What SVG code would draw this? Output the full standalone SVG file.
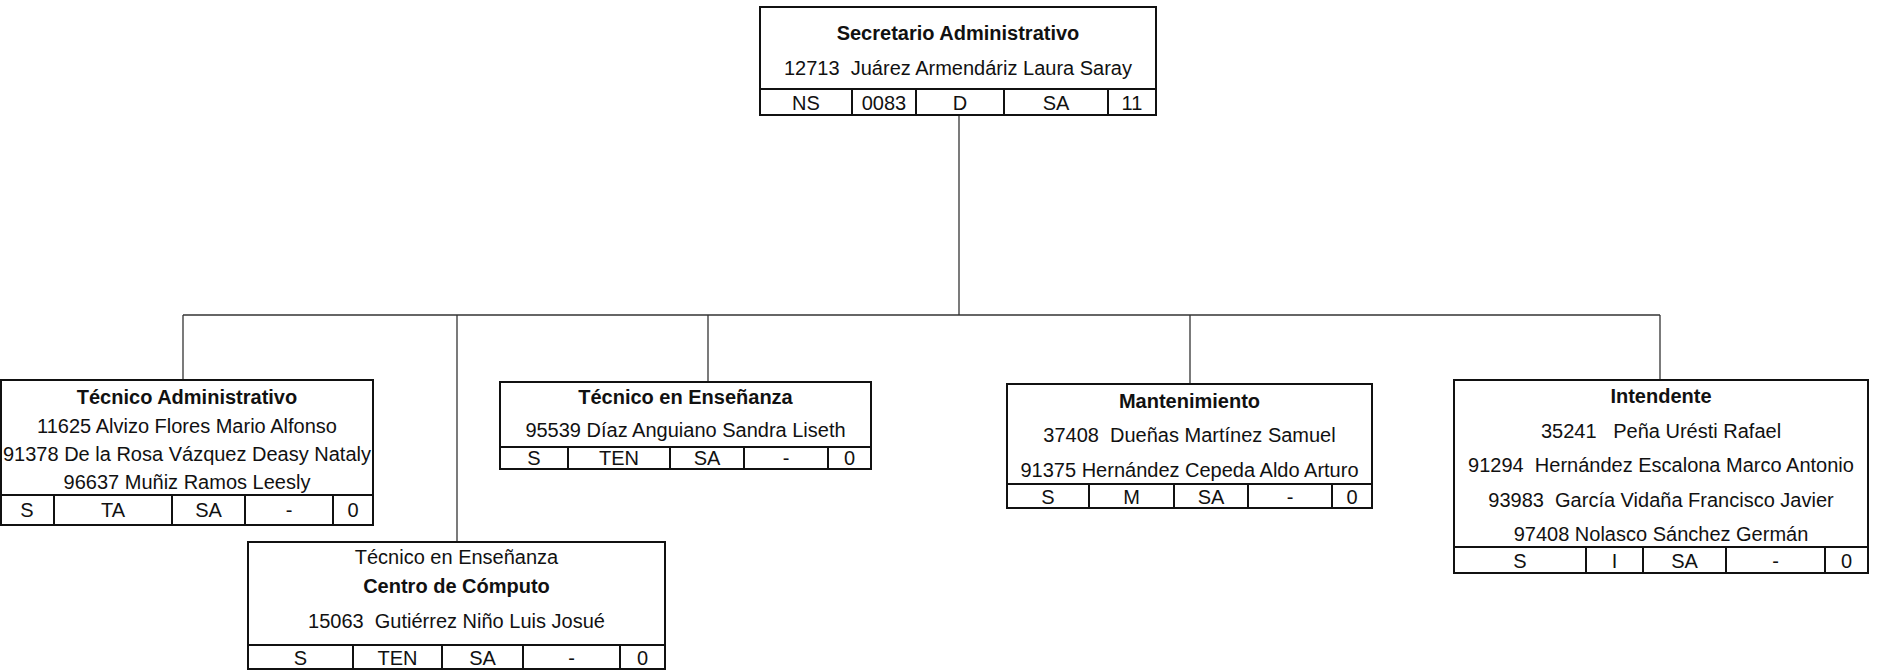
<svg xmlns="http://www.w3.org/2000/svg" width="1878" height="671" viewBox="0 0 1878 671">
<style>
text{font-family:"Liberation Sans",Arial,sans-serif;font-size:20px;fill:#111;text-anchor:middle;white-space:pre}
.b{font-weight:bold}
.box{fill:#fff;stroke:#111;stroke-width:2}
.div{stroke:#111;stroke-width:2;fill:none}
.con{stroke:#333;stroke-width:1.3;fill:none}
</style>
<rect width="1878" height="671" fill="#fff"/>
<g id="connectors">
<line class="con" x1="959" y1="115" x2="959" y2="315"/>
<line class="con" x1="183" y1="315" x2="1660" y2="315"/>
<line class="con" x1="183" y1="315" x2="183" y2="380"/>
<line class="con" x1="457" y1="315" x2="457" y2="542"/>
<line class="con" x1="708" y1="315" x2="708" y2="382"/>
<line class="con" x1="1190" y1="315" x2="1190" y2="384"/>
<line class="con" x1="1660" y1="315" x2="1660" y2="380"/>
</g>
<g id="secretario">
<rect class="box" x="760" y="7" width="396" height="108"/>
<path class="div" d="M760 89H1156M852 89V115M916 89V115M1004 89V115M1108 89V115"/>
<text class="b" x="958" y="40">Secretario Administrativo</text>
<text x="958" y="75" xml:space="preserve">12713  Juárez Armendáriz Laura Saray</text>
<text x="806" y="110">NS</text>
<text x="884" y="110">0083</text>
<text x="960" y="110">D</text>
<text x="1056" y="110">SA</text>
<text x="1132" y="110">11</text>
</g>
<g id="tecnico-administrativo">
<rect class="box" x="1" y="380" width="372" height="145"/>
<path class="div" d="M1 495H373M54 495V525M172 495V525M245 495V525M333 495V525"/>
<text class="b" x="187" y="404">Técnico Administrativo</text>
<text x="187" y="433">11625 Alvizo Flores Mario Alfonso</text>
<text x="187" y="461">91378 De la Rosa Vázquez Deasy Nataly</text>
<text x="187" y="489">96637 Muñiz Ramos Leesly</text>
<text x="27" y="517">S</text>
<text x="113" y="517">TA</text>
<text x="208.5" y="517">SA</text>
<text x="289" y="517">-</text>
<text x="353" y="517">0</text>
</g>
<g id="tecnico-ensenanza">
<rect class="box" x="500" y="382" width="371" height="87"/>
<path class="div" d="M500 447H871M568 447V469M670 447V469M744 447V469M828 447V469"/>
<text class="b" x="685.5" y="404">Técnico en Enseñanza</text>
<text x="685.5" y="437">95539 Díaz Anguiano Sandra Liseth</text>
<text x="534" y="465">S</text>
<text x="619" y="465">TEN</text>
<text x="707" y="465">SA</text>
<text x="786" y="465">-</text>
<text x="849.5" y="465">0</text>
</g>
<g id="centro-computo">
<rect class="box" x="248" y="542" width="417" height="127"/>
<path class="div" d="M248 645H665M353 645V669M442 645V669M523 645V669M620 645V669"/>
<text x="456.5" y="564">Técnico en Enseñanza</text>
<text class="b" x="456.5" y="593">Centro de Cómputo</text>
<text x="456.5" y="628" xml:space="preserve">15063  Gutiérrez Niño Luis Josué</text>
<text x="300.5" y="665">S</text>
<text x="397.5" y="665">TEN</text>
<text x="482.5" y="665">SA</text>
<text x="571.5" y="665">-</text>
<text x="642.5" y="665">0</text>
</g>
<g id="mantenimiento">
<rect class="box" x="1007" y="384" width="365" height="124"/>
<path class="div" d="M1007 484H1372M1089 484V508M1174 484V508M1248 484V508M1332 484V508"/>
<text class="b" x="1189.5" y="408">Mantenimiento</text>
<text x="1189.5" y="442" xml:space="preserve">37408  Dueñas Martínez Samuel</text>
<text x="1189.5" y="477">91375 Hernández Cepeda Aldo Arturo</text>
<text x="1048" y="504">S</text>
<text x="1131.5" y="504">M</text>
<text x="1211" y="504">SA</text>
<text x="1290" y="504">-</text>
<text x="1352" y="504">0</text>
</g>
<g id="intendente">
<rect class="box" x="1454" y="380" width="414" height="193"/>
<path class="div" d="M1454 547H1868M1586 547V573M1643 547V573M1726 547V573M1825 547V573"/>
<text class="b" x="1661" y="403">Intendente</text>
<text x="1661" y="438" xml:space="preserve">35241   Peña Urésti Rafael</text>
<text x="1661" y="472" xml:space="preserve">91294  Hernández Escalona Marco Antonio</text>
<text x="1661" y="507" xml:space="preserve">93983  García Vidaña Francisco Javier</text>
<text x="1661" y="541">97408 Nolasco Sánchez Germán</text>
<text x="1520" y="568">S</text>
<text x="1614.5" y="568">I</text>
<text x="1684.5" y="568">SA</text>
<text x="1775.5" y="568">-</text>
<text x="1846.5" y="568">0</text>
</g>
</svg>
